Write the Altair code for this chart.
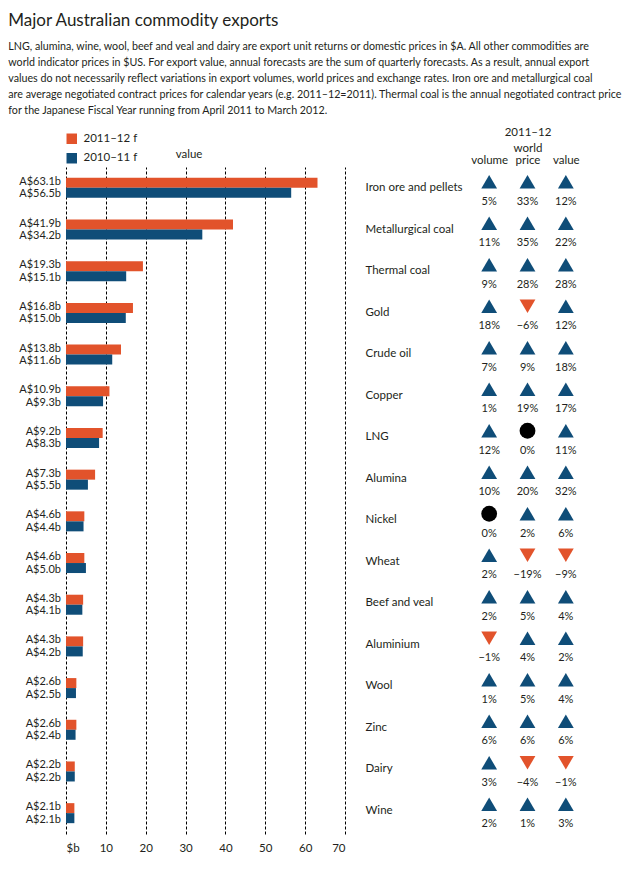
import altair as alt
import pandas as pd

# ---------------- data ----------------
commodities = ["Iron ore and pellets", "Metallurgical coal", "Thermal coal", "Gold",
               "Crude oil", "Copper", "LNG", "Alumina", "Nickel", "Wheat",
               "Beef and veal", "Aluminium", "Wool", "Zinc", "Dairy", "Wine"]
value_2011_12 = [63.1, 41.9, 19.3, 16.8, 13.8, 10.9, 9.2, 7.3, 4.6, 4.6, 4.3, 4.3, 2.6, 2.6, 2.2, 2.1]
value_2010_11 = [56.5, 34.2, 15.1, 15.0, 11.6, 9.3, 8.3, 5.5, 4.4, 5.0, 4.1, 4.2, 2.5, 2.4, 2.2, 2.1]
series_names = ["2011–12 f", "2010–11 f"]

change_columns = ["volume", "world price", "value"]
volume_change = [5, 11, 9, 18, 7, 1, 12, 10, 0, 2, 2, -1, 1, 6, 3, 2]
world_price_change = [33, 35, 28, -6, 9, 19, 0, 20, 2, -19, 5, 4, 5, 6, -4, 1]
value_change = [12, 22, 28, 12, 18, 17, 11, 32, 6, -9, 4, 2, 4, 6, -1, 3]

x_ticks = [0, 10, 20, 30, 40, 50, 60, 70]

title_text = "Major Australian commodity exports"
subtitle_lines = [
    "LNG, alumina, wine, wool, beef and veal and dairy are export unit returns or domestic prices in $A. All other commodities are",
    "world indicator prices in $US. For export value, annual forecasts are the sum of quarterly forecasts. As a result, annual export",
    "values do not necessarily reflect variations in export volumes, world prices and exchange rates. Iron ore and metallurgical coal",
    "are average negotiated contract prices for calendar years (e.g. 2011–12=2011). Thermal coal is the annual negotiated contract price",
    "for the Japanese Fiscal Year running from April 2011 to March 2012.",
]

# ---------------- tables ----------------
rows = []
for i, c in enumerate(commodities):
    for s, vals in zip(series_names, [value_2011_12, value_2010_11]):
        rows.append({"commodity": c, "series": s, "v": vals[i], "zero": 0,
                     "label": f"A${vals[i]:.1f}b"})
bars_df = pd.DataFrame(rows)

trows = []
for i, c in enumerate(commodities):
    for col, vals in zip(change_columns, [volume_change, world_price_change, value_change]):
        p = vals[i]
        d = "up" if p > 0 else ("down" if p < 0 else "zero")
        trows.append({"commodity": c, "col": col, "pct": p, "dir": d,
                      "plabel": f"{p}%".replace("-", "\u2212")})
tbl_df = pd.DataFrame(trows)

ORANGE = "#E2532B"
BLUE = "#0F4D78"
INK = "#231F20"
FONT = "Lato"
FS = 11.5

H_LEFT = 667
H_RIGHT = 664
W_LEFT = 279
W_RIGHT = 115

# ---------------- left: bars ----------------
x_scale = alt.Scale(domain=[0, 70], nice=False, zero=True)
x_axis = alt.Axis(values=x_ticks, title=None, domain=False, ticks=False,
                  grid=True, gridDash=[3, 2], gridColor="#000000", gridWidth=1,
                  labelOverlap=False,
                  labelExpr="datum.value == 0 ? '$b' : datum.label",
                  labelFontSize=FS, labelFont=FONT, labelColor=INK,
                  labelPadding=8)
y_left = alt.Y("commodity:N", sort=commodities, axis=None,
               scale=alt.Scale(paddingInner=0.52, paddingOuter=0.26))
y_off = alt.YOffset("series:N", sort=series_names,
                    scale=alt.Scale(domain=series_names, paddingInner=0, paddingOuter=0))

base_left = alt.Chart(bars_df)
bars = base_left.mark_bar().encode(
    x=alt.X("v:Q", scale=x_scale, axis=x_axis), y=y_left, yOffset=y_off,
    color=alt.Color("series:N", sort=series_names,
                    scale=alt.Scale(domain=series_names, range=[ORANGE, BLUE]),
                    legend=alt.Legend(orient="none", legendX=0, legendY=-34, title=None,
                                      symbolType="square", symbolSize=110,
                                      symbolStrokeWidth=0, labelFontSize=FS,
                                      labelFont=FONT, labelColor=INK, padding=0,
                                      rowPadding=6.5, labelOffset=6)),
)
lab_kw = dict(align="right", baseline="middle", dx=-5, fontSize=11, font=FONT, color=INK)
labels_new = base_left.transform_filter(alt.datum.series == series_names[0]).mark_text(
    dy=-1, **lab_kw).encode(
    x=alt.X("zero:Q", scale=x_scale, axis=x_axis), y=y_left, yOffset=y_off, text="label:N")
labels_old = base_left.transform_filter(alt.datum.series == series_names[1]).mark_text(
    dy=1.5, **lab_kw).encode(
    x=alt.X("zero:Q", scale=x_scale, axis=x_axis), y=y_left, yOffset=y_off, text="label:N")
value_head = alt.Chart(pd.DataFrame({"t": ["value"]})).mark_text(
    fontSize=FS, font=FONT, color=INK, baseline="middle").encode(
    x=alt.value(123), y=alt.value(-12), text="t:N")

left = alt.layer(bars, labels_new, labels_old, value_head).properties(
    width=W_LEFT, height=H_LEFT)

# ---------------- right: change table ----------------
x_right = alt.X("col:N", sort=change_columns,
                scale=alt.Scale(paddingInner=0, paddingOuter=0),
                axis=alt.Axis(orient="top", title="2011–12", labelAngle=0,
                              labelExpr="datum.value == 'world price' ? ['world', 'price'] : ['', datum.value]",
                              domain=False, ticks=False, labelPadding=14,
                              labelFontSize=FS, labelFont=FONT, labelColor=INK,
                              titleFontSize=FS, titleFont=FONT, titleColor=INK,
                              titleFontWeight="normal", titlePadding=5,
                              labelLineHeight=12))
y_right = alt.Y("commodity:N", sort=commodities,
                scale=alt.Scale(paddingInner=0, paddingOuter=0),
                axis=alt.Axis(title=None, domain=False, ticks=False, labelAlign="left",
                              labelPadding=105, labelFontSize=FS, labelFont=FONT,
                              labelColor=INK, labelLimit=200))
dirs = ["up", "down", "zero"]
base_right = alt.Chart(tbl_df)
marks = base_right.mark_point(filled=True, opacity=1, yOffset=-6).encode(
    x=x_right, y=y_right,
    shape=alt.Shape("dir:N", scale=alt.Scale(domain=dirs,
                                             range=["triangle-up", "triangle-down", "circle"]),
                    legend=None),
    color=alt.Color("dir:N", scale=alt.Scale(domain=dirs, range=[BLUE, ORANGE, "#000000"]),
                    legend=None),
    size=alt.Size("dir:N", scale=alt.Scale(domain=dirs, range=[250, 250, 170]), legend=None),
)
pct = base_right.mark_text(dy=14, baseline="middle", fontSize=11, font=FONT, color=INK).encode(
    x=x_right, y=y_right, text="plabel:N")
right = alt.layer(marks, pct).properties(width=W_RIGHT, height=H_RIGHT)

chart = alt.hconcat(left, right, spacing=20).resolve_scale(
    x="independent", y="independent", color="independent",
    shape="independent", size="independent"
).resolve_legend(color="independent").properties(
    title=alt.TitleParams(text=title_text, subtitle=subtitle_lines, anchor="start",
                          fontSize=17, font=FONT, fontWeight="normal", color=INK,
                          subtitleFont=FONT, subtitleFontSize=10.7,
                          subtitleColor=INK, subtitleLineHeight=16, subtitlePadding=12,
                          offset=9, dx=-11),
    padding={"left": 0, "top": 4, "right": 0, "bottom": 0},
).configure_view(stroke=None)

chart.save("out.html", embed_options={"renderer": "svg", "actions": False})
